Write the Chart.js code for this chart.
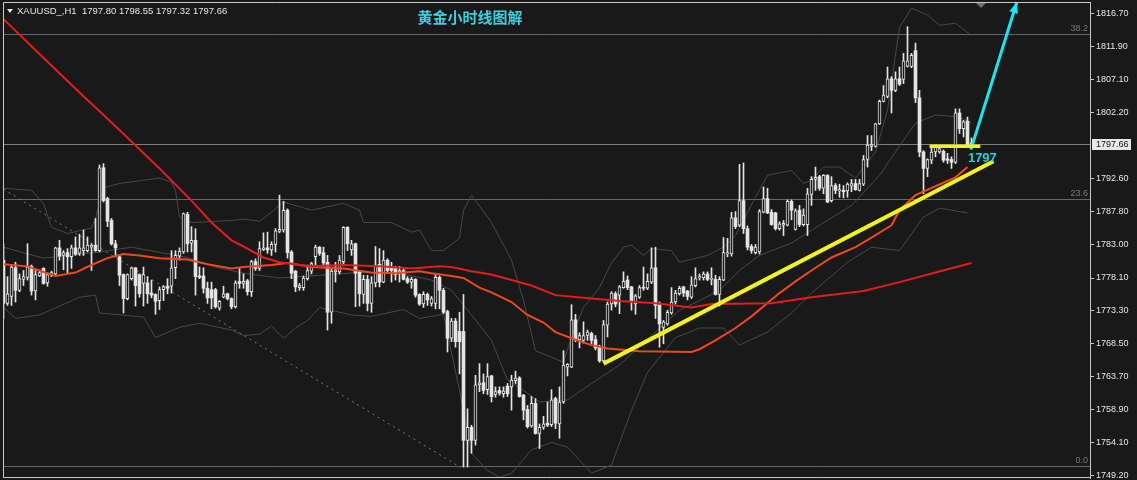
<!DOCTYPE html>
<html>
<head>
<meta charset="utf-8">
<script src="https://cdn.jsdelivr.net/npm/chart.js@4.4.0/dist/chart.umd.min.js"></script>
<style>
  html, body { margin: 0; padding: 0; background: #191919; }
  #wrap { width: 1137px; height: 480px; }
</style>
</head>
<body>
<div id="wrap"><canvas id="chart" width="1137" height="480"></canvas></div>
<script>
// XAUUSD H1 candles (index 0 = leftmost bar)
const opens = [
  1780.7,1774.4,1775.4,1779.6,1776.3,1777.9,1778.2,1779.8,1776.2,1778.4,
  1779.5,1777.4,1778.5,1778.7,1782.5,1781.4,1781.8,1781.2,1782.5,1781.7,
  1782.1,1782.1,1782.6,1782.9,1782.1,1794.2,1789.7,1786.5,1783.1,1781.2,
  1778.6,1775.1,1778.0,1779.6,1778.6,1777.3,1777.4,1775.9,1775.7,1774.8,
  1776.4,1776.9,1776.9,1779.6,1781.3,1781.9,1787.4,1783.2,1783.6,1778.4,
  1778.4,1776.6,1776.4,1776.4,1773.7,1775.3,1775.8,1775.1,1773.9,1777.6,
  1777.3,1777.7,1776.1,1780.5,1779.5,1782.2,1782.5,1782.2,1783.0,1784.9,
  1785.1,1788.0,1781.9,1779.1,1776.7,1776.7,1778.0,1779.1,1781.2,1782.6,
  1781.8,1780.4,1773.1,1779.0,1779.0,1780.5,1785.5,1782.2,1783.1,1779.0,
  1775.7,1777.9,1774.4,1777.4,1780.1,1777.5,1780.7,1779.5,1779.5,1778.9,
  1779.2,1778.0,1777.5,1777.9,1775.7,1774.3,1775.7,1774.4,1774.4,1778.2,
  1776.3,1773.2,1769.3,1771.8,1770.3,1770.3,1754.4,1756.3,1754.4,1762.5,
  1762.8,1761.8,1763.8,1761.1,1761.7,1761.2,1762.3,1762.2,1763.1,1763.5,
  1761.0,1758.9,1756.5,1759.8,1755.4,1756.3,1756.9,1756.7,1760.5,1756.8,
  1760.0,1765.1,1765.1,1772.0,1769.1,1769.0,1769.7,1770.0,1769.1,1768.0,
  1766.0,1771.2,1774.3,1775.8,1775.6,1776.7,1777.8,1776.8,1774.3,1775.3,
  1776.7,1776.6,1777.5,1779.6,1774.2,1770.9,1771.4,1773.0,1774.6,1775.8,
  1776.8,1776.2,1775.3,1777.0,1778.1,1778.1,1778.7,1777.9,1777.9,1775.7,
  1777.8,1781.6,1781.6,1786.9,1785.8,1789.4,1785.3,1782.7,1781.8,1781.9,
  1787.7,1789.7,1787.7,1787.6,1785.3,1785.8,1785.8,1789.3,1785.2,1788.0,
  1785.9,1785.9,1790.3,1792.5,1792.9,1791.2,1793.1,1789.4,1791.6,1790.8,
  1790.9,1790.8,1791.5,1791.9,1790.9,1791.8,1795.4,1797.3,1797.3,1800.6,
  1803.9,1804.6,1807.2,1805.5,1807.2,1807.1,1809.0,1809.0,1811.3,1804.4,
  1796.5,1794.1,1795.3,1796.5,1796.5,1796.6,1795.5,1795.4,1795.0,1802.2,
  1799.9,1801.0,1797.80
];
const highs = [
  1783.1,1778.3,1780.0,1780.4,1778.7,1779.2,1783.1,1780.0,1779.2,1779.2,
  1779.6,1778.7,1779.1,1782.6,1783.6,1782.1,1782.4,1782.9,1784.1,1784.5,
  1785.1,1784.1,1783.1,1786.8,1794.6,1794.8,1789.9,1786.8,1783.6,1781.4,
  1778.7,1778.7,1779.7,1779.6,1778.7,1779.7,1778.3,1777.8,1775.8,1776.8,
  1777.0,1778.0,1782.1,1782.1,1782.5,1787.6,1787.7,1785.6,1785.3,1779.7,
  1779.6,1777.5,1777.5,1776.6,1774.8,1776.9,1775.9,1775.2,1777.7,1779.5,
  1778.7,1777.9,1780.7,1780.9,1783.4,1784.7,1784.8,1783.4,1785.3,1790.2,
  1789.3,1788.2,1782.1,1779.2,1777.3,1778.4,1780.0,1780.4,1782.9,1782.7,
  1782.6,1781.4,1779.5,1780.4,1781.4,1785.6,1785.6,1783.6,1783.2,1779.2,
  1778.5,1778.5,1778.3,1782.7,1782.4,1782.1,1780.9,1780.4,1779.8,1779.8,
  1779.5,1778.3,1778.2,1778.0,1775.8,1776.1,1775.9,1775.4,1778.6,1778.4,
  1776.6,1773.4,1772.2,1772.2,1773.1,1775.7,1759.0,1756.6,1763.9,1765.6,
  1764.1,1765.6,1763.9,1762.2,1762.2,1762.2,1762.7,1763.9,1764.5,1763.7,
  1761.1,1759.5,1760.8,1760.5,1756.8,1757.9,1760.0,1761.8,1760.7,1762.2,
  1767.5,1765.6,1774.2,1772.8,1770.1,1771.7,1770.5,1770.2,1769.7,1768.3,
  1771.9,1774.6,1776.1,1776.1,1777.0,1779.0,1778.4,1776.9,1775.7,1777.0,
  1779.7,1778.7,1782.5,1782.6,1774.6,1771.9,1773.4,1776.7,1776.3,1776.9,
  1776.9,1776.3,1778.3,1779.6,1778.7,1779.0,1779.0,1779.6,1778.5,1778.3,
  1784.0,1783.9,1787.7,1787.8,1794.7,1794.9,1785.7,1783.0,1783.0,1788.1,
  1791.4,1791.2,1788.1,1787.7,1786.3,1786.5,1789.5,1789.5,1788.2,1788.7,
  1788.2,1791.2,1792.9,1794.3,1793.1,1793.2,1793.2,1792.9,1791.9,1791.8,
  1791.6,1792.0,1792.5,1792.5,1792.5,1796.0,1798.9,1798.9,1800.7,1804.1,
  1806.2,1808.9,1807.5,1808.2,1808.9,1810.9,1814.8,1810.9,1812.4,1805.5,
  1796.7,1795.5,1797.2,1797.5,1797.3,1796.8,1796.3,1795.8,1802.8,1802.8,
  1801.1,1801.6,1798.55
];
const lows = [
  1772.2,1774.1,1774.1,1774.6,1776.1,1777.0,1777.8,1775.6,1774.9,1778.3,
  1777.2,1776.9,1778.3,1778.6,1780.7,1779.3,1778.7,1779.5,1781.4,1781.4,
  1781.4,1781.9,1779.2,1782.0,1781.9,1789.2,1785.6,1782.9,1781.2,1777.0,
  1773.0,1774.9,1777.8,1774.0,1775.3,1774.0,1774.4,1775.2,1772.8,1773.5,
  1774.8,1775.8,1775.9,1778.0,1780.7,1781.7,1781.9,1781.9,1775.6,1778.0,
  1775.9,1774.4,1773.6,1773.7,1773.4,1775.2,1774.9,1773.6,1773.7,1776.6,
  1776.6,1775.6,1775.4,1779.2,1779.2,1782.1,1781.7,1781.4,1781.9,1784.7,
  1784.8,1781.0,1778.0,1776.1,1776.3,1776.3,1777.8,1778.7,1780.0,1781.4,
  1780.0,1770.5,1771.5,1777.5,1778.7,1780.0,1782.1,1781.4,1773.9,1774.0,
  1774.4,1773.3,1773.1,1776.8,1776.8,1777.4,1779.0,1777.5,1777.8,1777.5,
  1777.8,1777.3,1776.6,1775.3,1774.1,1773.8,1774.1,1774.0,1773.6,1773.6,
  1772.9,1767.3,1768.8,1768.0,1764.1,1750.5,1750.5,1752.5,1753.7,1761.5,
  1761.2,1761.1,1760.0,1760.7,1761.0,1760.7,1760.8,1758.8,1762.7,1760.7,
  1757.4,1756.2,1756.3,1755.3,1753.2,1756.0,1756.4,1756.4,1756.1,1754.7,
  1759.8,1763.8,1765.0,1768.8,1767.9,1768.6,1769.0,1768.5,1767.6,1765.8,
  1765.8,1769.5,1773.4,1773.9,1772.9,1776.6,1776.4,1773.4,1772.8,1775.1,
  1776.3,1776.4,1777.3,1772.2,1768.0,1768.5,1771.2,1772.8,1774.3,1775.6,
  1775.4,1774.9,1775.1,1776.8,1777.8,1777.8,1777.7,1777.1,1775.6,1774.0,
  1777.7,1781.2,1781.3,1785.3,1785.6,1784.6,1782.2,1781.7,1781.6,1781.6,
  1787.6,1787.5,1785.8,1785.1,1785.1,1784.3,1785.7,1786.6,1785.1,1785.6,
  1785.7,1784.3,1788.7,1790.9,1790.9,1790.4,1789.1,1789.2,1790.4,1789.9,
  1789.8,1789.9,1790.7,1790.9,1790.8,1791.6,1794.3,1796.7,1797.2,1800.5,
  1803.8,1804.4,1802.2,1805.3,1806.2,1806.5,1808.9,1808.8,1803.7,1795.8,
  1790.4,1792.9,1794.8,1795.8,1796.3,1795.0,1794.8,1794.1,1794.8,1799.2,
  1798.7,1797.3,1797.32
];
const closes = [
  1774.4,1775.8,1779.7,1776.3,1778.0,1778.3,1779.7,1776.2,1778.6,1778.9,
  1777.3,1778.6,1778.9,1782.5,1781.3,1781.8,1781.2,1782.5,1781.6,1782.5,
  1782.5,1782.9,1782.9,1782.1,1794.2,1789.4,1786.4,1783.1,1782.5,1778.5,
  1775.1,1778.6,1779.6,1777.0,1775.8,1778.6,1775.8,1775.6,1774.7,1776.4,
  1776.8,1776.6,1779.6,1781.4,1782.0,1787.5,1783.1,1783.6,1778.3,1778.2,
  1776.6,1775.2,1775.2,1773.9,1774.7,1775.8,1775.1,1773.9,1777.4,1777.3,
  1777.6,1776.1,1780.5,1779.5,1782.4,1782.5,1782.2,1783.0,1785.0,1785.2,
  1788.0,1781.8,1778.8,1776.8,1777.0,1778.1,1779.2,1780.2,1782.6,1781.7,
  1780.3,1773.1,1779.1,1779.3,1780.7,1785.5,1783.1,1783.1,1778.8,1775.8,
  1777.9,1774.4,1777.4,1780.0,1777.5,1780.7,1779.2,1779.2,1778.6,1779.2,
  1777.9,1777.5,1777.9,1775.6,1774.3,1775.7,1774.9,1775.1,1778.2,1776.3,
  1773.1,1769.3,1771.8,1768.8,1768.8,1754.4,1756.3,1754.4,1762.5,1762.8,
  1761.7,1763.7,1760.8,1761.5,1761.3,1761.6,1761.2,1763.2,1763.5,1760.8,
  1758.8,1756.4,1759.8,1755.4,1756.3,1756.8,1756.6,1760.3,1756.9,1760.0,
  1765.4,1765.5,1772.0,1769.1,1769.7,1769.7,1770.2,1769.0,1767.9,1766.0,
  1771.3,1774.3,1775.9,1774.3,1776.8,1777.6,1776.7,1774.8,1775.5,1776.7,
  1776.6,1777.6,1779.6,1774.1,1771.4,1771.7,1773.1,1774.6,1775.9,1776.6,
  1775.9,1775.4,1777.1,1778.0,1778.3,1778.7,1777.9,1778.0,1775.7,1777.9,
  1781.8,1781.8,1786.9,1785.6,1789.4,1785.3,1782.6,1782.1,1782.6,1787.8,
  1789.7,1787.6,1785.9,1785.3,1786.0,1786.1,1789.3,1788.0,1787.9,1785.9,
  1787.3,1790.4,1792.5,1792.8,1791.2,1793.1,1789.2,1791.6,1790.9,1791.0,
  1790.7,1791.8,1791.9,1791.0,1791.9,1795.4,1797.5,1797.6,1800.6,1803.9,
  1804.8,1807.2,1805.5,1807.2,1806.4,1809.8,1809.8,1810.6,1804.4,1796.5,
  1794.1,1795.4,1796.5,1797.2,1797.0,1795.3,1795.3,1795.0,1802.2,1799.9,
  1800.9,1797.5,1797.66
];

// moving averages and Bollinger lines as [bar index, price]
const maSlow = [[0,1815.9],[9,1810.8],[19,1805.2],[29,1799.7],[39,1794.1],[47,1789.4],
  [52,1786.2],[57,1783.6],[60,1782.7],[65,1781.1],[69,1780.4],[73,1780.1],[77,1779.8],
  [85,1780.0],[94,1779.8],[102,1779.5],[109,1779.8],[112,1779.7],[117,1779.1],[122,1778.6],
  [132,1777.0],[138,1775.6],[147,1775.1],[155,1774.7],[163,1774.4],[172,1773.8],[177,1774.3],
  [192,1774.4],[202,1775.3],[215,1776.2],[224,1777.5],[233,1778.9],[242,1780.3]];
const maFast = [[0,1780.1],[6,1779.8],[9,1779.2],[13,1778.4],[18,1778.9],[22,1780.0],
  [26,1781.0],[30,1781.6],[34,1781.4],[39,1781.0],[46,1780.8],[51,1780.1],[57,1779.5],
  [60,1779.7],[67,1780.0],[71,1780.3],[77,1779.7],[85,1779.5],[92,1778.9],[98,1778.8],
  [104,1779.1],[107,1778.8],[112,1778.4],[115,1778.1],[119,1776.7],[122,1776.0],[127,1774.6],
  [131,1772.7],[135,1771.6],[138,1770.2],[142,1769.3],[147,1768.3],[151,1767.8],[159,1767.4],
  [172,1767.3],[174,1767.7],[178,1769.0],[183,1770.8],[187,1772.5],[194,1775.9],[198,1777.6],
  [202,1779.2],[207,1781.1],[213,1782.6],[217,1784.0],[222,1785.8],[224,1788.0],[228,1790.2],
  [233,1791.5],[238,1792.8],[241,1794.3]];
const bandUpper = [[0,1791.2],[7,1790.9],[10,1789.0],[12,1785.5],[16,1784.6],[22,1785.4],
  [23,1786.8],[25,1791.3],[29,1791.9],[39,1792.7],[42,1792.1],[43,1790.9],[44,1787.0],
  [47,1786.2],[57,1786.5],[60,1786.7],[64,1786.4],[67,1787.7],[70,1789.2],[77,1788.0],
  [85,1789.0],[89,1788.0],[90,1786.2],[97,1786.2],[102,1784.8],[104,1785.1],[107,1782.1],
  [110,1782.1],[114,1783.9],[115,1788.0],[117,1790.2],[122,1786.2],[124,1784.0],[127,1780.7],
  [130,1774.8],[133,1767.5],[140,1765.8],[142,1769.4],[145,1773.8],[149,1776.7],[152,1780.3],
  [155,1782.6],[157,1782.9],[160,1781.4],[162,1782.4],[167,1782.1],[169,1780.4],[176,1781.4],
  [180,1782.6],[183,1784.3],[188,1789.9],[191,1793.1],[197,1793.8],[200,1791.9],[202,1792.4],
  [205,1794.3],[209,1794.3],[213,1792.7],[218,1796.5],[221,1802.6],[224,1814.7],[227,1817.5],
  [231,1816.5],[234,1815.0],[238,1815.3],[242,1813.5]];
const bandMiddle = [[0,1782.6],[10,1781.0],[24,1781.9],[32,1782.6],[46,1781.1],[53,1779.7],
  [60,1778.8],[69,1778.1],[79,1778.5],[89,1778.9],[99,1778.8],[107,1777.8],[112,1776.3],
  [117,1772.7],[122,1769.0],[126,1763.2],[130,1761.7],[134,1760.0],[141,1760.3],[147,1762.7],
  [154,1765.4],[162,1769.7],[169,1773.4],[174,1774.8],[179,1776.3],[184,1779.2],[189,1781.4],
  [197,1783.2],[204,1785.8],[212,1788.7],[219,1793.1],[225,1798.2],[228,1800.7],[233,1801.9],
  [239,1801.6],[242,1800.7]];
const bandLower = [[0,1773.8],[3,1772.2],[9,1772.7],[19,1775.3],[23,1775.6],[24,1773.0],
  [35,1772.4],[38,1769.4],[44,1770.9],[49,1771.5],[57,1770.5],[60,1769.7],[64,1769.9],
  [67,1771.1],[70,1769.3],[73,1770.8],[76,1771.9],[79,1773.8],[87,1772.7],[92,1772.5],
  [100,1773.5],[104,1772.2],[110,1772.8],[114,1761.7],[117,1752.5],[121,1750.0],[124,1749.0],
  [127,1749.6],[132,1753.0],[137,1754.1],[141,1753.4],[147,1749.6],[152,1750.8],[157,1758.8],
  [161,1764.3],[168,1769.4],[174,1770.8],[180,1770.8],[184,1768.3],[191,1770.2],[197,1773.0],
  [202,1775.9],[211,1780.4],[217,1782.6],[224,1782.1],[230,1787.0],[234,1788.3],[241,1787.6]];

// drawn objects
const channelLine = [[0,1791.05],[114.2,1750.47]];
const trendLine = [[150,1765.6],[247.5,1795.14]];
const supportLine = [[231.5,1797.33],[244.2,1797.33]];
const arrowLine = [[241.85,1796.84],[253.35,1818.39]];
const arrowText = '1797';

const tickVals = [1816.70,1811.90,1807.10,1802.20,1792.60,1787.80,1783.00,1778.10,
  1773.30,1768.50,1763.70,1758.90,1754.10,1749.20];
const fibLevels = [1813.78, 1789.69, 1750.65];
const fibLabels = ['38.2', '23.6', '0.0'];
const lastPrice = 1797.66;
const headerText = 'XAUUSD_,H1  1797.80 1798.55 1797.32 1797.66';
const titleText = '黄金小时线图解';

const bg = '#191919';
const candleWhite = '#e4e4e4';

const pts = arr => arr.map(p => ({ x: p[0], y: p[1] }));
const lineDs = (data, color, width, order, extra) => Object.assign({
  type: 'line', data: pts(data), borderColor: color, borderWidth: width,
  pointRadius: 0, fill: false, tension: 0, order: order
}, extra || {});

const bodies = opens.map((o, i) => ({ x: i, y: [o, closes[i]] }));
const wicks = lows.map((l, i) => ({ x: i, y: [l, highs[i]] }));
const isBull = opens.map((o, i) => closes[i] >= o);

const overlay = {
  id: 'overlay',
  beforeDatasetsDraw(chart) {
    const { ctx, chartArea: a, scales: { y } } = chart;
    ctx.save();
    ctx.lineWidth = 1;
    ctx.font = '9px "Liberation Sans"';
    ctx.textAlign = 'right';
    ctx.textBaseline = 'bottom';
    fibLevels.forEach((v, k) => {
      const py = Math.round(y.getPixelForValue(v)) + 0.5;
      ctx.strokeStyle = '#666666';
      ctx.beginPath(); ctx.moveTo(a.left, py); ctx.lineTo(a.right, py); ctx.stroke();
      ctx.fillStyle = '#7a7a7a';
      ctx.fillText(fibLabels[k], a.right - 2, py - 1);
    });
    const pp = Math.round(y.getPixelForValue(lastPrice)) + 0.5;
    ctx.strokeStyle = '#7e7e7e';
    ctx.beginPath(); ctx.moveTo(a.left, pp); ctx.lineTo(a.right, pp); ctx.stroke();
    ctx.restore();
  },
  afterDatasetsDraw(chart) {
    const { ctx, scales: { x, y } } = chart;
    ctx.save();
    // arrow head
    const x0 = x.getPixelForValue(arrowLine[0][0]), y0 = y.getPixelForValue(arrowLine[0][1]);
    const x1 = x.getPixelForValue(arrowLine[1][0]), y1 = y.getPixelForValue(arrowLine[1][1]);
    const ang = Math.atan2(y1 - y0, x1 - x0);
    const len = 11, half = 4.5;
    ctx.fillStyle = '#1fe3ee';
    ctx.beginPath();
    ctx.moveTo(x1, y1);
    ctx.lineTo(x1 - len * Math.cos(ang) + half * Math.sin(ang), y1 - len * Math.sin(ang) - half * Math.cos(ang));
    ctx.lineTo(x1 - len * Math.cos(ang) - half * Math.sin(ang), y1 - len * Math.sin(ang) + half * Math.cos(ang));
    ctx.closePath();
    ctx.fill();
    // label under the arrow start
    ctx.font = 'bold 13px "Liberation Sans"';
    ctx.fillStyle = '#22d3dd';
    ctx.textAlign = 'left';
    ctx.textBaseline = 'alphabetic';
    ctx.fillText(arrowText, x0 - 3, y0 + 12);
    ctx.restore();
  },
  afterDraw(chart) {
    const { ctx, chartArea: a, scales: { y } } = chart;
    ctx.save();
    // frame
    ctx.strokeStyle = '#c8c8c8';
    ctx.lineWidth = 1;
    ctx.beginPath();
    ctx.moveTo(a.left + 0.5, a.bottom - 0.5);
    ctx.lineTo(a.left + 0.5, a.top + 0.5);
    ctx.lineTo(a.right + 0.5, a.top + 0.5);
    ctx.moveTo(a.left, a.bottom - 0.5);
    ctx.lineTo(a.right, a.bottom - 0.5);
    ctx.stroke();
    // chart shift marker
    ctx.fillStyle = '#6f6f6f';
    ctx.beginPath();
    ctx.moveTo(976, 3); ctx.lineTo(986, 3); ctx.lineTo(981, 8); ctx.closePath(); ctx.fill();
    // header
    ctx.fillStyle = '#e6e6e6';
    ctx.beginPath();
    ctx.moveTo(7, 9); ctx.lineTo(13, 9); ctx.lineTo(10, 13); ctx.closePath(); ctx.fill();
    ctx.font = '9.5px "Liberation Sans"';
    ctx.textAlign = 'left';
    ctx.textBaseline = 'middle';
    ctx.fillText(headerText, 17, 11.5);
    // title
    ctx.font = 'bold 15px "Noto Sans CJK SC"';
    ctx.fillStyle = '#3ccfe0';
    ctx.textAlign = 'center';
    ctx.fillText(titleText, 470, 17);
    // current price box on the axis
    const py = Math.round(y.getPixelForValue(lastPrice));
    ctx.fillStyle = '#e8e8e8';
    ctx.fillRect(a.right + 2, py - 5, 39, 11);
    ctx.fillStyle = '#111111';
    ctx.font = '9px "Liberation Sans"';
    ctx.textAlign = 'left';
    ctx.fillText(lastPrice.toFixed(2), a.right + 6, py + 0.5);
    ctx.restore();
  }
};

new Chart(document.getElementById('chart'), {
  type: 'bar',
  data: {
    datasets: [
      lineDs(maSlow, '#e51c1c', 2, 0),
      lineDs(maFast, '#f0481c', 2, 1),
      {
        type: 'bar', data: bodies, order: 2, grouped: false, barThickness: 3, minBarLength: 1,
        backgroundColor: isBull.map(b => b ? bg : candleWhite),
        borderColor: candleWhite,
        borderWidth: isBull.map(b => b ? 1 : 0),
        borderSkipped: false
      },
      {
        type: 'bar', data: wicks, order: 3, grouped: false, barThickness: 1, minBarLength: 1,
        backgroundColor: candleWhite, borderWidth: 0
      },
      lineDs(bandUpper, '#4a4a4a', 1, 4),
      lineDs(bandMiddle, '#4a4a4a', 1, 5),
      lineDs(bandLower, '#4a4a4a', 1, 6),
      lineDs(channelLine, '#7a7a7a', 1, 7, { borderDash: [2, 4] }),
      lineDs(trendLine, '#f2f21e', 4, -3),
      lineDs(supportLine, '#f2f21e', 3.5, -2),
      lineDs(arrowLine, '#1fe3ee', 3, -1, { clip: false })
    ]
  },
  options: {
    responsive: false,
    animation: false,
    events: [],
    layout: { padding: { left: 3, top: 2, bottom: 2, right: 0 } },
    plugins: { legend: { display: false }, tooltip: { enabled: false } },
    scales: {
      x: { type: 'linear', display: false, min: -0.125, max: 271.625, offset: false },
      y: {
        position: 'right',
        min: 1748.9,
        max: 1818.4,
        afterBuildTicks: s => { s.ticks = tickVals.map(v => ({ value: v })); },
        afterFit: s => { s.width = 47; s.paddingTop = 0; s.paddingBottom = 0; },
        grid: { drawOnChartArea: false, drawTicks: true, tickLength: 4, color: '#c8c8c8' },
        border: { display: true, color: '#c8c8c8' },
        ticks: {
          autoSkip: false, padding: 2, color: '#e6e6e6',
          font: { family: 'Liberation Sans', size: 9 },
          callback: v => Number(v).toFixed(2)
        }
      }
    }
  },
  plugins: [overlay]
});
</script>
</body>
</html>
